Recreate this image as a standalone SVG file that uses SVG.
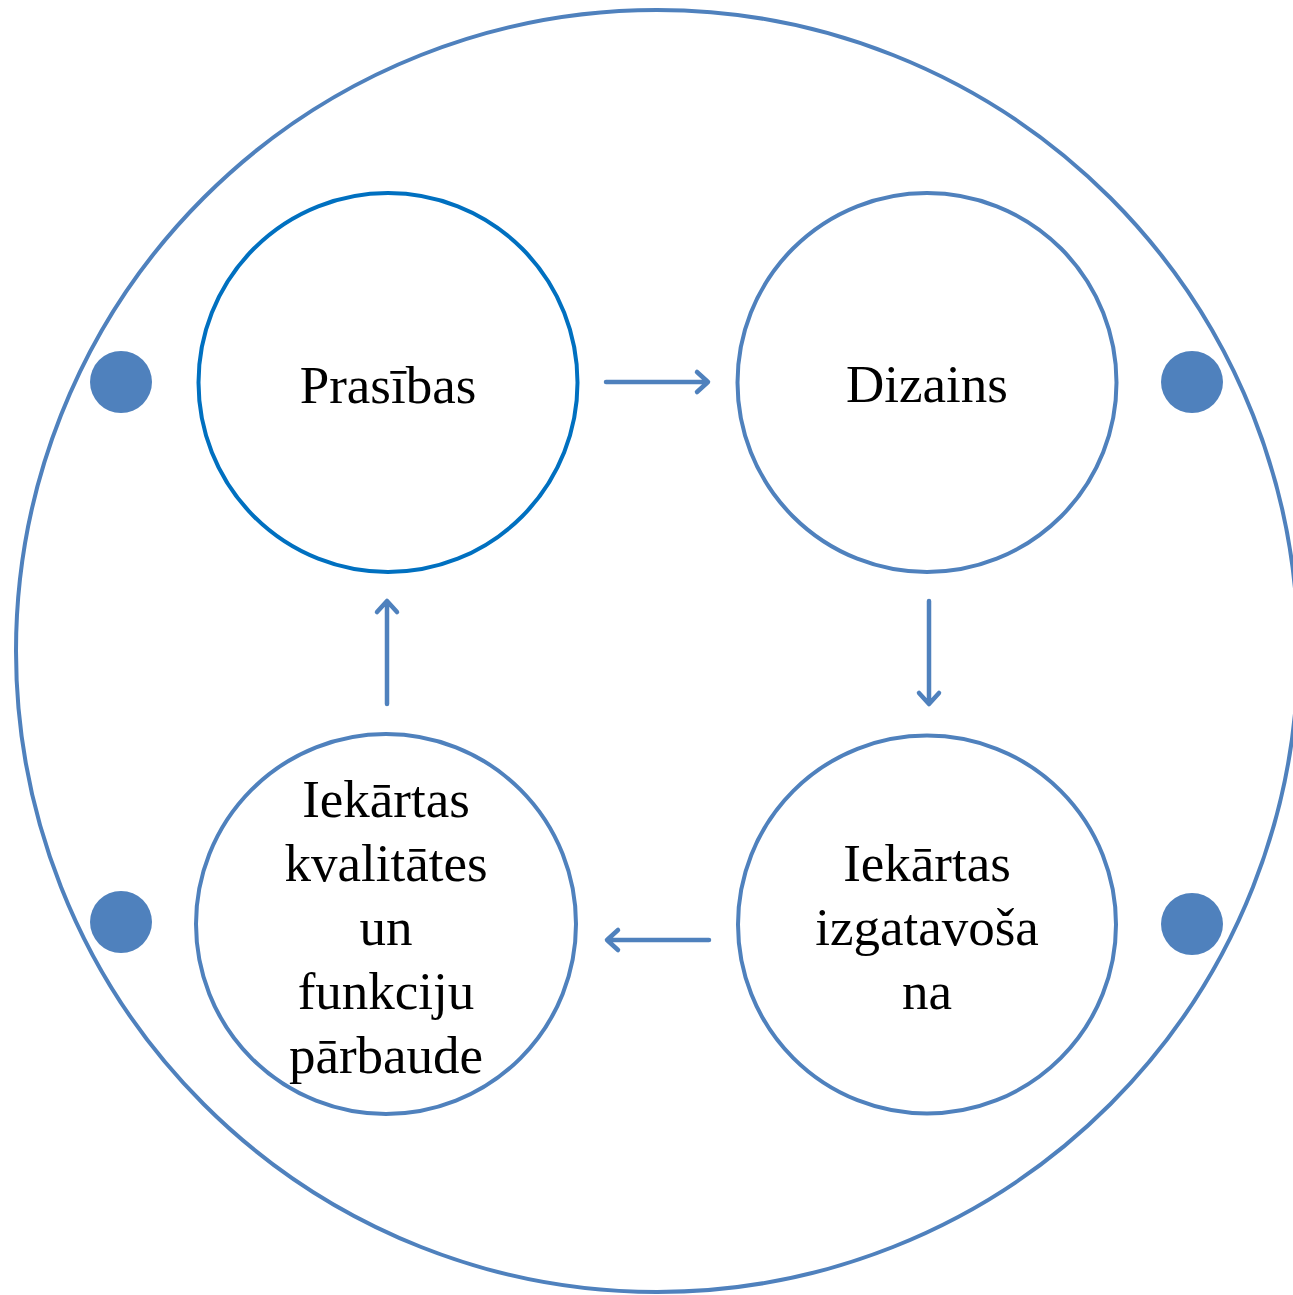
<svg xmlns="http://www.w3.org/2000/svg" width="1293" height="1295" viewBox="0 0 1293 1295">
<style>
.node{fill:#fff;stroke:#4F81BD;stroke-width:4}
.sel{stroke:#0070C0;stroke-width:4}
.lbl{font-family:"Liberation Serif","Times New Roman",serif;font-size:53px;fill:#000;text-anchor:middle}
.dot{fill:#4F81BD}
.conn{stroke:#4F81BD;stroke-width:4.5;fill:none;stroke-linecap:round;stroke-linejoin:round}
</style>
<rect width="1293" height="1295" fill="#fff"/>
<g id="outer"><circle cx="657" cy="651" r="641" fill="none" stroke="#4F81BD" stroke-width="4"/></g>
<g id="dots">
<circle class="dot" cx="121" cy="382" r="31"/>
<circle class="dot" cx="1192" cy="382" r="31"/>
<circle class="dot" cx="121" cy="922" r="31"/>
<circle class="dot" cx="1192" cy="924" r="31"/>
</g>
<g id="n-prasibas"><circle class="node sel" cx="388" cy="382.5" r="189.5"/><text class="lbl" x="388" y="403">Prasības</text></g>
<g id="n-dizains"><circle class="node" cx="927" cy="382.5" r="189.5"/><text class="lbl" x="927" y="402">Dizains</text></g>
<g id="n-izgatavosana"><circle class="node" cx="927" cy="924.5" r="189"/><text class="lbl" x="927"><tspan x="927" y="881">Iekārtas</tspan><tspan x="927" y="945">izgatavoša</tspan><tspan x="927" y="1009">na</tspan></text></g>
<g id="n-parbaude"><circle class="node" cx="386" cy="924" r="190"/><text class="lbl" x="386"><tspan x="386" y="817">Iekārtas</tspan><tspan x="386" y="881">kvalitātes</tspan><tspan x="386" y="945">un</tspan><tspan x="386" y="1009">funkciju</tspan><tspan x="386" y="1073">pārbaude</tspan></text></g>
<g id="connectors">
<path class="conn" d="M606 382H707M697 372L708 382L697 392"/>
<path class="conn" d="M929 601V703M919 693L929 704L939 693"/>
<path class="conn" d="M709 940H608M618 930L607 940L618 950"/>
<path class="conn" d="M387 704V602M377 612L387 601L397 612"/>
</g>
</svg>
